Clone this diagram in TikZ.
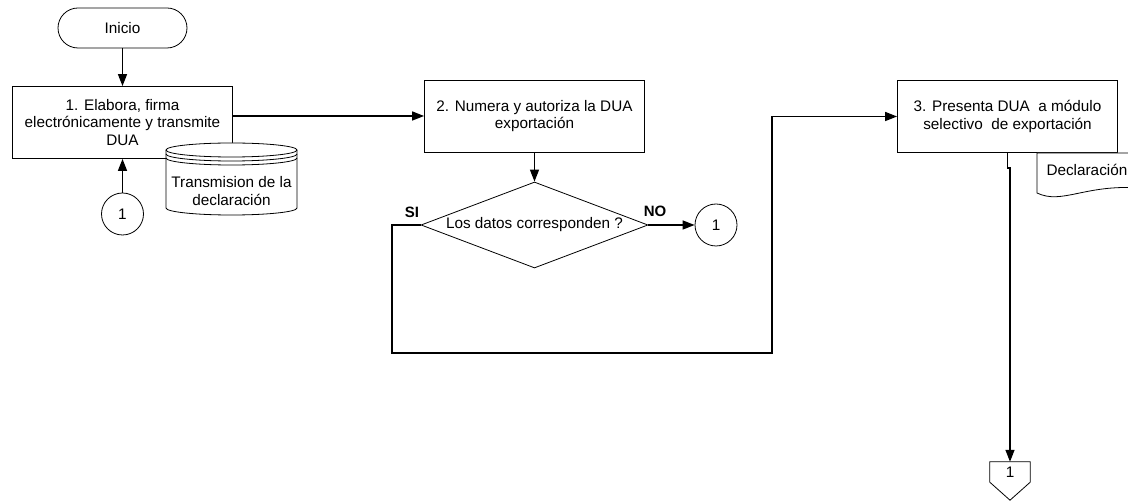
\documentclass[tikz,border=0pt]{standalone}
\usepackage{fontspec}
\setmainfont{Liberation Sans}
\usetikzlibrary{shapes.geometric, arrows.meta}

\begin{document}
\begin{tikzpicture}[x=1pt, y=-1pt,
    txt/.style={font=\fontsize{15.3}{17.5}\selectfont, align=center},
    terminal/.style={txt, draw, line width=0.8pt, fill=white, rounded corners=20pt,
        minimum width=129pt, minimum height=40pt},
    process/.style={txt, draw, line width=0.8pt, fill=white,
        minimum width=220pt, minimum height=72pt, inner sep=2pt},
    decision/.style={txt, diamond, draw, line width=0.8pt, aspect=2.6,
        minimum width=227pt, minimum height=86pt, inner sep=0pt},
    connector/.style={txt, circle, draw, line width=0.8pt, minimum size=42pt, inner sep=0pt},
    answer/.style={font=\fontsize{15}{17.5}\selectfont\bfseries},
    shapeline/.style={line width=0.8pt},
    link/.style={line width=1.4pt},
    flow/.style={link, -{Triangle[length=12pt, width=9pt]}}
]
    \useasboundingbox (0,0) rectangle (1128,502);

    % nodes
    \node[terminal] (start) at (122.5,28) {Inicio};
    \node[process] (elabora) at (122.5,122.5) {1. Elabora, firma\\electrónicamente y transmite\\DUA};
    \node[connector] (back) at (122.5,214) {1};
    \node[process] (numera) at (534.5,116) {2. Numera y autoriza la DUA\\exportación};
    \node[decision] (datos) at (534.5,225) {Los datos corresponden ?};
    \node[connector] (nolink) at (716,225) {1};
    \node[process] (presenta) at (1007.5,116.5) {3. Presenta DUA\ \ a módulo\\selectivo\ \ de exportación};
    \node[txt, minimum width=40pt, minimum height=20pt, inner sep=0pt] (offpage) at (1010,472) {1};

    % stored data
    \filldraw[shapeline, fill=white] (166,150) arc(180:360:65.5 and 7) -- (297,208)
        arc(0:180:65.5 and 7) -- cycle;
    \draw[shapeline] (166,150) arc(180:0:65.5 and 7);
    \draw[shapeline] (166,154) arc(180:0:65.5 and 7);
    \draw[shapeline] (166,158) arc(180:0:65.5 and 7);
    \node[txt] (transmision) at (231.5,191) {Transmision de la\\declaración};

    % document
    \filldraw[shapeline, fill=white] (1037,153) -- (1037,193)
        .. controls (1062,205) and (1085,184) .. (1140,188) -- (1140,153) -- cycle;
    \node[txt, anchor=west] (declaracion) at (1043,170) {Declaración};

    % off-page connector
    \draw[shapeline] (offpage.north west) -- (offpage.north east) -- (offpage.south east)
        -- ([yshift=-18pt]offpage.south) -- (offpage.south west) -- cycle;

    % loop points
    \coordinate (loopA) at (392,353);
    \coordinate (loopB) at (772,353);

    % connectors
    \draw[flow] (start) -- (elabora);
    \draw[flow] (back.north) -- (back.north |- elabora.south);
    \draw[flow] (elabora.east |- numera.west) -- (numera.west);
    \draw[flow] (numera) -- (datos);
    \draw[flow] (datos.east) -- (nolink);
    \draw[flow] (datos.west) -| (loopA) -- (loopB) |- (presenta.west);
    \draw[flow] (presenta.south) -- ++(0,15) -| (offpage.north);

    \node[answer] (si) at (412,212) {SI};
    \node[answer] (no) at (655,211) {NO};
\end{tikzpicture}
\end{document}
